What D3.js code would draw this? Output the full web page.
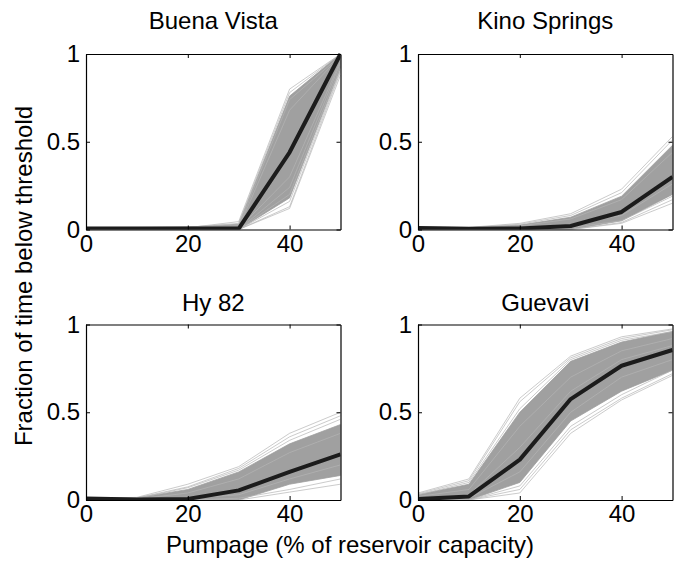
<!DOCTYPE html>
<html>
<head>
<meta charset="utf-8">
<script src="https://cdn.jsdelivr.net/npm/d3@7"></script>
<style>
  html, body { margin: 0; padding: 0; background: #fff; }
  svg { display: block; font-family: "Liberation Sans", Arial, Helvetica, sans-serif; }
</style>
</head>
<body>
<svg id="chart" width="678" height="562"></svg>
<script>
// ---------------- DATA ----------------
const pumpage = [0, 10, 20, 30, 40, 50];
const xTicks = [0, 20, 40];
const yTicks = [0, 0.5, 1];
const yTickLabels = ["0", "0.5", "1"];
const panelNames = ["Buena Vista", "Kino Springs", "Hy 82", "Guevavi"];
const xLabel = "Pumpage (% of reservoir capacity)";
const yLabel = "Fraction of time below threshold";

// Mean (thick black) curves
const meanBuenaVista  = [0.005, 0.005, 0.006, 0.005, 0.44, 1.0];
const meanKinoSprings = [0.008, 0.004, 0.006, 0.02, 0.10, 0.30];
const meanHy82        = [0.008, 0.003, 0.006, 0.055, 0.16, 0.26];
const meanGuevavi     = [0.005, 0.02, 0.23, 0.575, 0.765, 0.855];

// Dense core of the ensemble (lower / upper bounds)
const coreLoBuenaVista  = [0, 0, 0, 0, 0.18, 0.92];
const coreHiBuenaVista  = [0.012, 0.012, 0.014, 0.03, 0.76, 1.0];
const coreLoKinoSprings = [0, 0, 0, 0, 0.05, 0.20];
const coreHiKinoSprings = [0.012, 0.01, 0.025, 0.07, 0.19, 0.48];
const coreLoHy82        = [0, 0, 0, 0, 0.09, 0.14];
const coreHiHy82        = [0.012, 0.012, 0.06, 0.16, 0.32, 0.43];
const coreLoGuevavi     = [0, 0, 0.10, 0.45, 0.62, 0.74];
const coreHiGuevavi     = [0.03, 0.09, 0.50, 0.79, 0.90, 0.96];

// Individual ensemble members visible outside / at the edge of the core
const membersBuenaVista = [
  [0, 0.002, 0.010, 0.045, 0.80, 1.0],
  [0, 0.004, 0.012, 0.035, 0.78, 1.0],
  [0.01, 0.01, 0.015, 0.02, 0.74, 0.99],
  [0, 0, 0.005, 0.01, 0.68, 0.99],
  [0, 0, 0, 0.005, 0.30, 0.96],
  [0, 0, 0, 0, 0.24, 0.95],
  [0, 0, 0, 0, 0.20, 0.93],
  [0, 0, 0, 0, 0.16, 0.91],
  [0, 0, 0, 0, 0.13, 0.90],
  [0, 0, 0, 0, 0.12, 0.88]
];
const membersKinoSprings = [
  [0.015, 0.012, 0.035, 0.09, 0.23, 0.53],
  [0.01, 0.01, 0.03, 0.08, 0.21, 0.51],
  [0.01, 0.008, 0.02, 0.06, 0.17, 0.44],
  [0, 0, 0.01, 0.03, 0.08, 0.26],
  [0, 0, 0, 0.01, 0.05, 0.19],
  [0, 0, 0, 0, 0.04, 0.17],
  [0, 0, 0, 0, 0.035, 0.15]
];
const membersHy82 = [
  [0.01, 0.015, 0.09, 0.19, 0.38, 0.50],
  [0.01, 0.012, 0.075, 0.18, 0.36, 0.48],
  [0.01, 0.01, 0.07, 0.17, 0.34, 0.46],
  [0, 0.005, 0.04, 0.12, 0.27, 0.38],
  [0, 0, 0.01, 0.03, 0.12, 0.20],
  [0, 0, 0, 0.01, 0.06, 0.12],
  [0, 0, 0, 0, 0.045, 0.09]
];
const membersGuevavi = [
  [0.04, 0.12, 0.58, 0.82, 0.93, 0.975],
  [0.035, 0.11, 0.56, 0.81, 0.92, 0.97],
  [0.03, 0.10, 0.52, 0.80, 0.91, 0.96],
  [0.02, 0.06, 0.42, 0.70, 0.85, 0.92],
  [0.01, 0.03, 0.30, 0.62, 0.80, 0.88],
  [0, 0.01, 0.16, 0.50, 0.70, 0.80],
  [0, 0, 0.08, 0.42, 0.60, 0.74],
  [0, 0, 0.06, 0.40, 0.58, 0.72],
  [0, 0, 0.04, 0.38, 0.57, 0.71]
];

const panelData = [
  { mean: meanBuenaVista,  lo: coreLoBuenaVista,  hi: coreHiBuenaVista,  members: membersBuenaVista },
  { mean: meanKinoSprings, lo: coreLoKinoSprings, hi: coreHiKinoSprings, members: membersKinoSprings },
  { mean: meanHy82,        lo: coreLoHy82,        hi: coreHiHy82,        members: membersHy82 },
  { mean: meanGuevavi,     lo: coreLoGuevavi,     hi: coreHiGuevavi,     members: membersGuevavi }
];

// ---------------- LAYOUT ----------------
const svg = d3.select("#chart");
const colLeft = [86, 418];
const rowTop = [54, 324.5];
const titleOffset = [-25.5, -14];
const pw = 254.5, ph = 175.5;
const fontSize = 24;

panelNames.forEach((name, i) => {
  const col = i % 2, row = Math.floor(i / 2);
  const g = svg.append("g").attr("transform", `translate(${colLeft[col]},${rowTop[row]})`);
  const x = d3.scaleLinear().domain([0, 50]).range([0, pw]);
  const y = d3.scaleLinear().domain([0, 1]).range([ph, 0]);
  const d = panelData[i];

  const clipId = "clip" + i;
  g.append("clipPath").attr("id", clipId)
    .append("rect").attr("x", 0).attr("y", -2).attr("width", pw).attr("height", ph + 2);
  const plot = g.append("g").attr("clip-path", `url(#${clipId})`);

  const area = d3.area()
    .x((v, k) => x(pumpage[k]))
    .y0((v, k) => y(d.lo[k]))
    .y1((v, k) => y(d.hi[k]));
  plot.append("path").datum(d.lo).attr("d", area)
    .attr("fill", "#a0a0a0").attr("stroke", "#a0a0a0").attr("stroke-width", 0.8);

  const line = d3.line().x((v, k) => x(pumpage[k])).y(v => y(v));
  plot.selectAll("path.member").data(d.members).join("path")
    .attr("class", "member")
    .attr("d", line)
    .attr("fill", "none")
    .attr("stroke", "#b4b4b4")
    .attr("stroke-width", 0.7);

  plot.append("path").datum(d.mean).attr("d", line)
    .attr("fill", "none").attr("stroke", "#1c1c1c")
    .attr("stroke-width", 4).attr("stroke-linejoin", "round");

  // axes (inward ticks on all sides, MATLAB style)
  const tl = 4;
  const ax = g.append("g").attr("transform", `translate(0,${ph})`)
    .call(d3.axisBottom(x).tickValues(xTicks).tickSizeInner(-tl).tickSizeOuter(0).tickPadding(5));
  const axTop = g.append("g")
    .call(d3.axisTop(x).tickValues(xTicks).tickSizeInner(-tl).tickSizeOuter(0).tickFormat(""));
  const ay = g.append("g")
    .call(d3.axisLeft(y).tickValues(yTicks).tickSizeInner(-tl).tickSizeOuter(0).tickPadding(6)
      .tickFormat((v, k) => yTickLabels[k]));
  const ayR = g.append("g").attr("transform", `translate(${pw},0)`)
    .call(d3.axisRight(y).tickValues(yTicks).tickSizeInner(-tl).tickSizeOuter(0).tickFormat(""));

  [ax, axTop, ay, ayR].forEach(a => {
    a.select(".domain").attr("stroke", "#000").attr("stroke-width", 1.2);
    a.selectAll(".tick line").attr("stroke", "#000").attr("stroke-width", 1);
    a.selectAll(".tick text").attr("fill", "#000")
      .style("font-size", fontSize + "px")
      .style("font-family", '"Liberation Sans", Arial, Helvetica, sans-serif');
  });

  g.append("text")
    .attr("x", pw / 2).attr("y", titleOffset[row])
    .attr("text-anchor", "middle")
    .style("font-size", fontSize + "px")
    .attr("fill", "#000")
    .text(name);
});

svg.append("text")
  .attr("x", 350).attr("y", 553)
  .attr("text-anchor", "middle")
  .style("font-size", fontSize + "px")
  .attr("fill", "#000")
  .text(xLabel);

svg.append("text")
  .attr("transform", "translate(32,276) rotate(-90)")
  .attr("text-anchor", "middle")
  .style("font-size", fontSize + "px")
  .attr("fill", "#000")
  .text(yLabel);
</script>
</body>
</html>
